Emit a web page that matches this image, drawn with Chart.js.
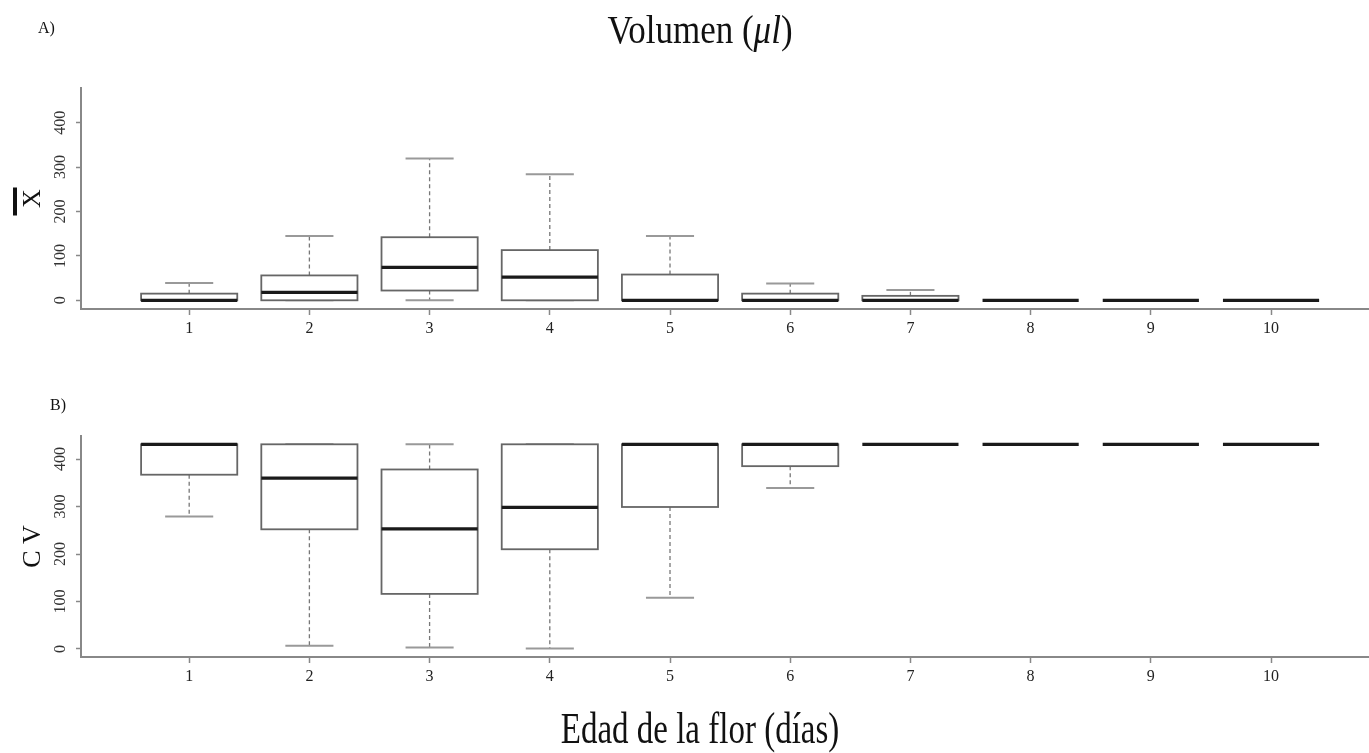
<!DOCTYPE html>
<html lang="es">
<head>
<meta charset="utf-8">
<title>Volumen de néctar según la edad de la flor</title>
<script src="https://cdn.jsdelivr.net/npm/chart.js@4.4.1/dist/chart.umd.min.js"></script>
<style>
  html, body { margin: 0; padding: 0; background: #fff; }
  #lienzo { position: relative; width: 1369px; height: 753px; overflow: hidden; }
  #lienzo canvas { position: absolute; left: 0; }
  #panelA { top: 0; }
  #panelB { top: 345px; }
</style>
</head>
<body>
<div id="lienzo">
  <canvas id="panelA" width="1369" height="345"></canvas>
  <canvas id="panelB" width="1369" height="408"></canvas>
</div>
<script>
// edad de la flor (días)
const dias = [1, 2, 3, 4, 5, 6, 7, 8, 9, 10];
const yTicks = [0, 100, 200, 300, 400];

// A) volumen medio (µl): mínimo, cuartiles, mediana y máximo por día
const volMin = [0, 0, 0, 0, 0, 0, 0, 0, 0, 0];
const volQ1  = [0, 0, 22, 0, 0, 0, 0, 0, 0, 0];
const volMed = [0, 18, 74, 52, 0, 0, 0, 0, 0, 0];
const volQ3  = [15, 56, 142, 113, 58, 15, 10, 0, 0, 0];
const volMax = [39, 145, 319, 284, 145, 38, 23, 0, 0, 0];

// B) coeficiente de variación
const cvMin = [279, 7, 3, 1, 108, 339, 431, 431, 431, 431];
const cvQ1  = [367, 252, 116, 210, 299, 385, 431, 431, 431, 431];
const cvMed = [431, 360, 253, 298, 431, 431, 431, 431, 431, 431];
const cvQ3  = [431, 431, 378, 431, 431, 431, 431, 431, 431, 431];
const cvMax = [431, 431, 431, 431, 431, 431, 431, 431, 431, 431];

const SERIF = '"Liberation Serif", "Times New Roman", serif';

// dibuja las cajas (estilo boxplot de R) con las escalas del gráfico
const cajas = {
  id: 'cajas',
  afterDatasetsDraw(chart, args, o) {
    const { ctx, scales: { x, y } } = chart;
    const linea = (x1, y1, x2, y2) => {
      ctx.beginPath(); ctx.moveTo(x1, y1); ctx.lineTo(x2, y2); ctx.stroke();
    };
    ctx.save();
    dias.forEach((d, i) => {
      const xc = x.getPixelForValue(d);
      const xl = x.getPixelForValue(d - 0.4), xr = x.getPixelForValue(d + 0.4);
      const sl = x.getPixelForValue(d - 0.2), sr = x.getPixelForValue(d + 0.2);
      const pMin = y.getPixelForValue(o.min[i]);
      const pQ1 = y.getPixelForValue(o.q1[i]);
      const pMed = y.getPixelForValue(o.med[i]);
      const pQ3 = y.getPixelForValue(o.q3[i]);
      const pMax = y.getPixelForValue(o.max[i]);

      // bigotes punteados
      ctx.setLineDash([4, 3]);
      ctx.strokeStyle = '#777';
      ctx.lineWidth = 1.3;
      if (o.max[i] > o.q3[i]) linea(xc, pQ3, xc, pMax);
      if (o.min[i] < o.q1[i]) linea(xc, pQ1, xc, pMin);

      // topes
      ctx.setLineDash([]);
      ctx.strokeStyle = '#999';
      ctx.lineWidth = 2;
      linea(sl, pMax, sr, pMax);
      linea(sl, pMin, sr, pMin);

      // caja
      if (o.q3[i] > o.q1[i]) {
        ctx.fillStyle = '#fff';
        ctx.fillRect(xl, pQ3, xr - xl, pQ1 - pQ3);
        ctx.strokeStyle = '#666';
        ctx.lineWidth = 1.8;
        ctx.strokeRect(xl, pQ3, xr - xl, pQ1 - pQ3);
      }

      // mediana
      ctx.strokeStyle = '#1a1a1a';
      ctx.lineWidth = 3.2;
      linea(xl, pMed, xr, pMed);
    });
    ctx.restore();
  }
};

// textos sueltos: título, letras de panel y rótulo del eje x
const rotulos = {
  id: 'rotulos',
  afterDraw(chart, args, o) {
    const ctx = chart.ctx;
    (o.items || []).forEach(t => {
      ctx.save();
      ctx.translate(t.x, t.y);
      ctx.scale(1, t.estirar || 1);
      ctx.fillStyle = '#111';
      ctx.textBaseline = 'alphabetic';
      ctx.textAlign = 'left';
      const fuentes = t.partes.map(p => (p.italic ? 'italic ' : '') + t.size + 'px ' + SERIF);
      const anchos = t.partes.map((p, k) => { ctx.font = fuentes[k]; return ctx.measureText(p.text).width; });
      const total = anchos.reduce((a, b) => a + b, 0);
      let cx = t.centrado ? -total / 2 : 0;
      t.partes.forEach((p, k) => {
        ctx.font = fuentes[k];
        ctx.fillText(p.text, cx, 0);
        cx += anchos[k];
      });
      ctx.restore();
    });
    if (o.barra) {
      // barra de la media sobre la X del eje y
      const a = chart.chartArea;
      const cy = (a.top + a.bottom) / 2;
      ctx.save();
      ctx.fillStyle = '#111';
      ctx.fillRect(13, cy - 11, 4, 28);
      ctx.restore();
    }
  }
};

function crearPanel(canvasId, serie, yMin, yMax, tituloY, padTop, altoX, items, barra) {
  return new Chart(document.getElementById(canvasId), {
    type: 'scatter',
    data: { datasets: [] },
    options: {
      responsive: false,
      animation: false,
      events: [],
      layout: { padding: { top: padTop, left: 0, right: 0, bottom: 0 } },
      plugins: {
        legend: { display: false },
        tooltip: { enabled: false },
        cajas: serie,
        rotulos: { items: items, barra: barra }
      },
      scales: {
        x: {
          type: 'linear',
          min: 0.1,
          max: 10.815,
          afterBuildTicks: s => { s.ticks = dias.map(v => ({ value: v })); },
          afterFit: s => { s.height = altoX; },
          grid: { drawOnChartArea: false, tickLength: 6, tickColor: '#888', tickWidth: 1.5 },
          border: { color: '#888', width: 2 },
          ticks: {
            font: { family: SERIF, size: 16 },
            color: '#222',
            padding: 4,
            maxRotation: 0,
            autoSkip: false
          }
        },
        y: {
          min: yMin,
          max: yMax,
          afterBuildTicks: s => { s.ticks = yTicks.map(v => ({ value: v })); },
          afterFit: s => { s.width = 81; },
          grid: { drawOnChartArea: false, tickLength: 5, tickColor: '#888', tickWidth: 1.5 },
          border: { color: '#888', width: 2 },
          ticks: {
            font: { family: SERIF, size: 16 },
            color: '#333',
            minRotation: 90,
            maxRotation: 90,
            crossAlign: 'center',
            padding: 3
          },
          title: {
            display: true,
            text: tituloY,
            font: { family: SERIF, size: 26 },
            color: '#111',
            padding: { top: 18, bottom: 0 }
          }
        }
      }
    },
    plugins: [cajas, rotulos]
  });
}

crearPanel('panelA',
  { min: volMin, q1: volQ1, med: volMed, q3: volQ3, max: volMax },
  -19.6, 478, 'X', 88, 36,
  [
    { x: 700, y: 43, size: 35, estirar: 1.12, centrado: true,
      partes: [{ text: 'Volumen (' }, { text: 'μl', italic: true }, { text: ')' }] },
    { x: 38, y: 33, size: 16, partes: [{ text: 'A)' }] }
  ],
  true);

crearPanel('panelB',
  { min: cvMin, q1: cvQ1, med: cvMed, q3: cvQ3, max: cvMax },
  -16.9, 448.5, 'C V', 91, 96,
  [
    { x: 50, y: 65, size: 16, partes: [{ text: 'B)' }] },
    { x: 700, y: 398, size: 33, estirar: 1.35, centrado: true,
      partes: [{ text: 'Edad de la flor (días)' }] }
  ],
  false);
</script>
</body>
</html>
